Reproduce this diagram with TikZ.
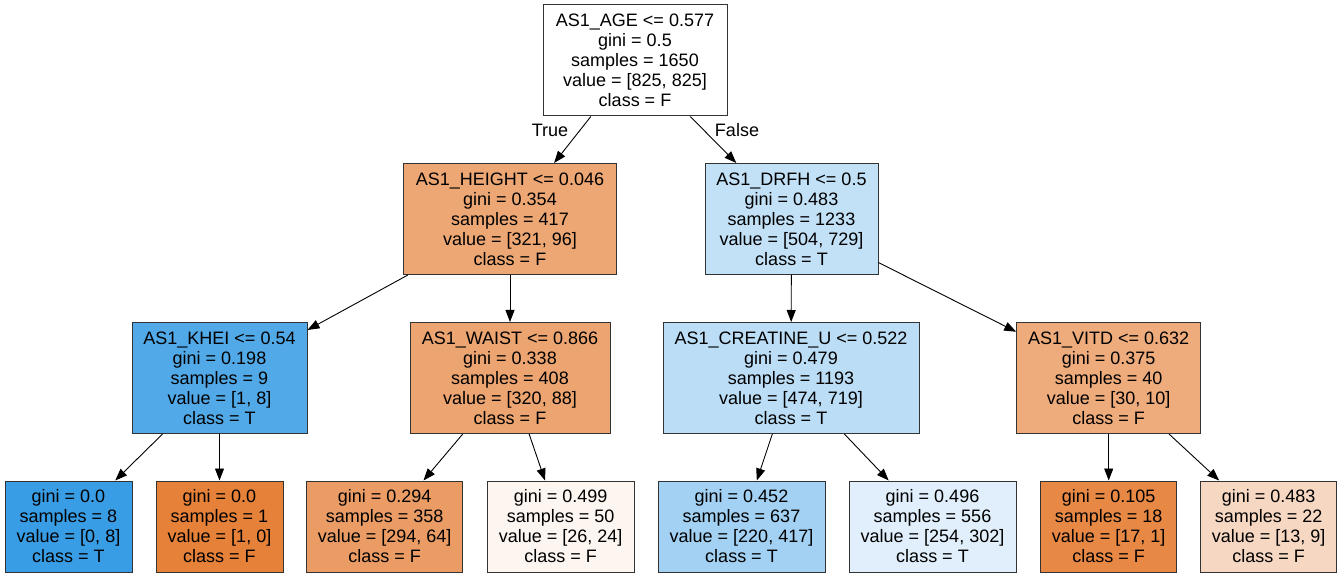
\documentclass[tikz,border=0pt]{standalone}
\usepackage{fontspec}
\setmainfont{Liberation Sans}
\usepackage{tikz}
\usetikzlibrary{arrows.meta,positioning}
\definecolor{cF1}{HTML}{EDA774}
\definecolor{cF2}{HTML}{ECA470}
\definecolor{cF3}{HTML}{EEAB7B}
\definecolor{cF4}{HTML}{E58139}
\definecolor{cF5}{HTML}{EA9C64}
\definecolor{cF6}{HTML}{FDF5F0}
\definecolor{cF7}{HTML}{E78845}
\definecolor{cF8}{HTML}{F6D7C2}
\definecolor{cT1}{HTML}{C2E1F7}
\definecolor{cT2}{HTML}{52A9E8}
\definecolor{cT3}{HTML}{BBDDF6}
\definecolor{cT4}{HTML}{399DE5}
\definecolor{cT5}{HTML}{A2D1F3}
\definecolor{cT6}{HTML}{E0EFFB}
\tikzset{
  tbox/.style={draw=black!80, line width=1pt, align=center, inner sep=0pt,
               minimum height=111pt, font=\fontsize{18}{20}\selectfont},
  tleaf/.style={tbox, minimum height=91pt},
  elab/.style={inner sep=0pt, font=\fontsize{18}{20}\selectfont},
  flow/.style={-{Triangle[length=12pt,width=9pt]}, line width=0.9pt},
}
\begin{document}
\begin{tikzpicture}[x=1pt, y=-1pt]
  \useasboundingbox (0,0) rectangle (1342,577);
  % splits
  \node[tbox, fill=white, minimum width=184pt] (root) at (635,60.5)
    {AS1\_AGE <= 0.577\\gini = 0.5\\samples = 1650\\value = [825, 825]\\class = F};
  \node[tbox, fill=cF1, minimum width=213pt] (height) at (510,219)
    {AS1\_HEIGHT <= 0.046\\gini = 0.354\\samples = 417\\value = [321, 96]\\class = F};
  \node[tbox, fill=cT1, minimum width=173pt] (drfh) at (791.5,219)
    {AS1\_DRFH <= 0.5\\gini = 0.483\\samples = 1233\\value = [504, 729]\\class = T};
  \node[tbox, fill=cT2, minimum width=175pt] (khei) at (219.5,378)
    {AS1\_KHEI <= 0.54\\gini = 0.198\\samples = 9\\value = [1, 8]\\class = T};
  \node[tbox, fill=cF2, minimum width=200pt] (waist) at (510,378)
    {AS1\_WAIST <= 0.866\\gini = 0.338\\samples = 408\\value = [320, 88]\\class = F};
  \node[tbox, fill=cT3, minimum width=256pt] (creat) at (791,378)
    {AS1\_CREATINE\_U <= 0.522\\gini = 0.479\\samples = 1193\\value = [474, 719]\\class = T};
  \node[tbox, fill=cF3, minimum width=184pt] (vitd) at (1108.7,378)
    {AS1\_VITD <= 0.632\\gini = 0.375\\samples = 40\\value = [30, 10]\\class = F};
  % leaves
  \node[tleaf, fill=cT4, minimum width=127pt] (l1) at (68.5,526.5)
    {gini = 0.0\\samples = 8\\value = [0, 8]\\class = T};
  \node[tleaf, fill=cF4, minimum width=127pt] (l2) at (219.5,526.5)
    {gini = 0.0\\samples = 1\\value = [1, 0]\\class = F};
  \node[tleaf, fill=cF5, minimum width=156pt] (l3) at (384.7,526.5)
    {gini = 0.294\\samples = 358\\value = [294, 64]\\class = F};
  \node[tleaf, fill=cF6, minimum width=147pt] (l4) at (560.7,526.5)
    {gini = 0.499\\samples = 50\\value = [26, 24]\\class = F};
  \node[tleaf, fill=cT5, minimum width=167pt] (l5) at (741.5,526.5)
    {gini = 0.452\\samples = 637\\value = [220, 417]\\class = T};
  \node[tleaf, fill=cT6, minimum width=167pt] (l6) at (932.5,526.5)
    {gini = 0.496\\samples = 556\\value = [254, 302]\\class = T};
  \node[tleaf, fill=cF7, minimum width=136pt] (l7) at (1108.7,526.5)
    {gini = 0.105\\samples = 18\\value = [17, 1]\\class = F};
  \node[tleaf, fill=cF8, minimum width=136pt] (l8) at (1268.7,526.5)
    {gini = 0.483\\samples = 22\\value = [13, 9]\\class = F};
  % edge labels
  \node[elab] (ltrue) at (550,130) {True};
  \node[elab] (lfalse) at (737,130) {False};
  % edges
  \draw[flow] (root)--(height); \draw[flow] (root)--(drfh);
  \draw[flow] (height)--(khei); \draw[flow] (height)--(waist);
  \draw[flow] (drfh)--(creat); \draw[flow] (drfh)--(vitd);
  \draw[flow] (khei)--(l1); \draw[flow] (khei)--(l2);
  \draw[flow] (waist)--(l3); \draw[flow] (waist)--(l4);
  \draw[flow] (creat)--(l5); \draw[flow] (creat)--(l6);
  \draw[flow] (vitd)--(l7); \draw[flow] (vitd)--(l8);
\end{tikzpicture}
\end{document}
